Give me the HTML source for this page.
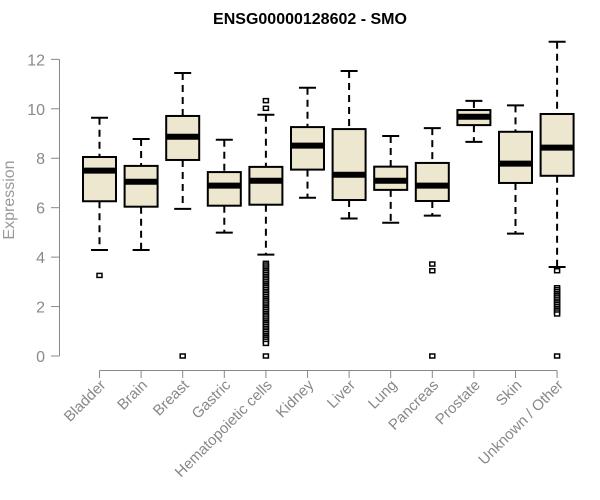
<!DOCTYPE html>
<html><head><meta charset="utf-8"><style>
body{margin:0;background:#fff;}
svg{display:block;font-family:"Liberation Sans",sans-serif;}
</style></head><body>
<svg id="chart" width="600" height="500" viewBox="0 0 600 500">
<text x="310" y="24" text-anchor="middle" font-weight="bold" font-size="16" fill="#000">ENSG00000128602 - SMO</text>
<text transform="translate(14,200) rotate(-90)" text-anchor="middle" font-size="16" fill="#999">Expression</text>
<g id="yaxis"></g>
<g id="xaxis"></g>
<g id="boxes"></g>
</svg>
<script>
const categories=["Bladder","Brain","Breast","Gastric","Hematopoietic cells","Kidney","Liver","Lung","Pancreas","Prostate","Skin","Unknown / Other"];
const whiskerLow=[4.29,4.29,5.95,4.99,4.10,6.40,5.56,5.39,5.68,8.66,4.95,3.60];
const q1=[6.26,6.04,7.93,6.08,6.12,7.54,6.31,6.72,6.27,9.34,7.00,7.29];
const median=[7.50,7.05,8.87,6.89,7.09,8.51,7.33,7.09,6.89,9.68,7.78,8.43];
const q3=[8.05,7.69,9.71,7.44,7.65,9.26,9.18,7.66,7.81,9.95,9.07,9.79];
const whiskerHigh=[9.64,8.78,11.45,8.75,9.76,10.85,11.53,8.90,9.22,10.32,10.14,12.71];
const outliers=[[3.26],[],[0],[],[10.33,10.02,3.75,3.68,3.6,3.52,3.45,3.38,3.3,3.22,3.15,3.08,3.0,2.92,2.85,2.78,2.7,2.62,2.55,2.48,2.4,2.32,2.25,2.18,2.1,2.02,1.95,1.88,1.8,1.72,1.65,1.58,1.5,1.42,1.35,1.28,1.2,1.12,1.05,0.98,0.9,0.82,0.75,0.68,0.6,0.51,0],[],[],[],[3.72,3.45,0],[],[],[3.45,2.76,2.68,2.6,2.52,2.45,2.38,2.3,2.22,2.15,2.08,2.0,1.92,1.85,1.78,1.70,0]];
const yTicks=[0,2,4,6,8,10,12];
const NS="http://www.w3.org/2000/svg";
const y=v=>356-v*24.72;
const x=i=>99.5+i*41.6;
function mk(tag,attrs,parent){const e=document.createElementNS(NS,tag);for(const k in attrs)e.setAttribute(k,attrs[k]);parent.appendChild(e);return e;}
const ya=document.getElementById('yaxis'),xa=document.getElementById('xaxis'),bx=document.getElementById('boxes');
mk('line',{x1:59.5,x2:59.5,y1:y(12),y2:y(0),stroke:'#888','stroke-width':1},ya);
yTicks.forEach(t=>{
 const l=mk('line',{x1:51,x2:59.5,y1:y(t),y2:y(t),stroke:'#888'},ya);
 
 
 const tx=mk('text',{x:45,y:y(t)+6,'text-anchor':'end','font-size':16,fill:'#8a8a8a'},ya);
 tx.textContent=t;
 
 
});
mk('line',{x1:x(0),x2:x(11),y1:370.5,y2:370.5,stroke:'#888'},xa);
categories.forEach((c,i)=>{
 const cx=x(i);
 const tk=mk('line',{x1:cx,x2:cx,y1:370.5,y2:378,stroke:'#888'},xa);
 
 
 const tx=mk('text',{transform:`translate(${cx+7},386) rotate(-45)`,'text-anchor':'end','font-size':15,fill:'#888'},xa);
 tx.textContent=c;
 
 
 const g=mk('g',{},bx);
 
 
 mk('line',{x1:cx,x2:cx,y1:y(whiskerHigh[i]),y2:y(q3[i]),stroke:'#000','stroke-width':2,'stroke-dasharray':'7,5'},g);
 mk('line',{x1:cx,x2:cx,y1:y(q1[i]),y2:y(whiskerLow[i]),stroke:'#000','stroke-width':2,'stroke-dasharray':'7,5'},g);
 mk('line',{x1:cx-8.5,x2:cx+8.5,y1:y(whiskerHigh[i]),y2:y(whiskerHigh[i]),stroke:'#000','stroke-width':2},g);
 mk('line',{x1:cx-8.5,x2:cx+8.5,y1:y(whiskerLow[i]),y2:y(whiskerLow[i]),stroke:'#000','stroke-width':2},g);
 mk('rect',{x:cx-16.5,y:y(q3[i]),width:33,height:y(q1[i])-y(q3[i]),fill:'#ede7cf',stroke:'#000','stroke-width':2},g);
 mk('line',{x1:cx-16.5,x2:cx+16.5,y1:y(median[i]),y2:y(median[i]),stroke:'#000','stroke-width':6},g);
 outliers[i].forEach(v=>{
  const o=mk('rect',{x:cx-2.5,y:y(v)-2,width:5,height:4,fill:'#fff',stroke:'#000','stroke-width':1.5},g);
  
  
 });
});
</script>
</body></html>
